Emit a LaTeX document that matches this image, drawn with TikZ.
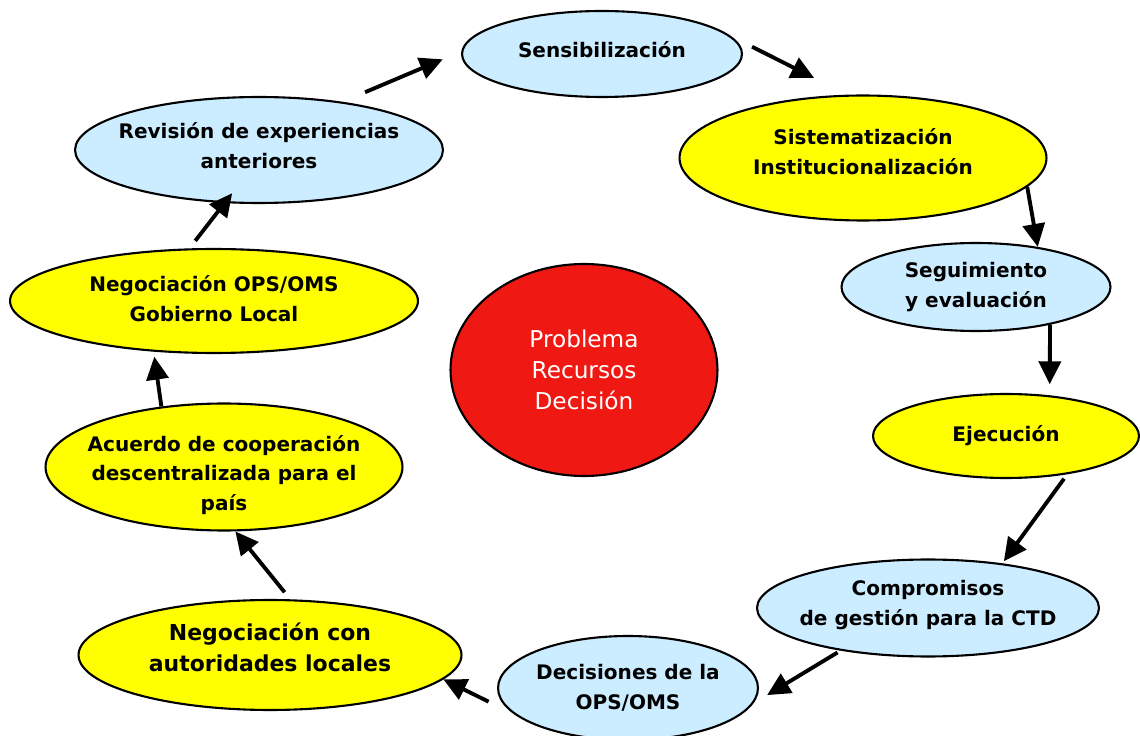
\documentclass[tikz,border=0pt]{standalone}
\usepackage{fontspec}
\setmainfont{DejaVu Sans}
\usepackage{tikz}
\definecolor{cycleblue}{RGB}{204,236,255}
\definecolor{cycleyellow}{RGB}{255,255,0}
\definecolor{cyclered}{RGB}{240,24,18}
\usetikzlibrary{shapes.geometric}
\usetikzlibrary{arrows.meta}
\tikzset{stage/.style={ellipse,draw=black,line width=1.2pt,inner sep=0pt}}
\tikzset{bluestage/.style={stage,fill=cycleblue}}
\tikzset{yellowstage/.style={stage,fill=cycleyellow}}
\tikzset{stagetext/.style={align=center,inner sep=0pt,font=\fontsize{11.4}{17}\selectfont\bfseries}}
\tikzset{core/.style={stage,fill=cyclered}}
\tikzset{coretext/.style={align=center,inner sep=0pt,text=white,font=\fontsize{13.2}{17.5}\selectfont}}
\tikzset{flow/.style={black,line width=2.2pt,-{Triangle[length=0.46cm,width=0.44cm]}}}

\begin{document}
\begin{tikzpicture}[x=0.02cm,y=-0.02cm]
  \useasboundingbox (0,0) rectangle (1140,736);

  % Stages
  \node[bluestage,minimum width=5.6cm,minimum height=1.72cm,
    label={[stagetext,yshift=0.08cm]center:Sensibilización}] (sens) at (602,54) {};
  \node[yellowstage,minimum width=7.34cm,minimum height=2.5cm,
    label={[stagetext,yshift=0.12cm]center:{Sistematización\\Institucionalización}}] (sist) at (863,158) {};
  \node[bluestage,minimum width=5.38cm,minimum height=1.76cm,
    label={[stagetext]center:{Seguimiento\\y evaluación}}] (segu) at (976,287) {};
  \node[yellowstage,minimum width=5.32cm,minimum height=1.68cm,
    label={[stagetext]center:Ejecución}] (ejec) at (1006,436) {};
  \node[bluestage,minimum width=6.84cm,minimum height=1.94cm,
    label={[stagetext,yshift=0.06cm]center:{Compromisos\\de gestión para la CTD}}] (comp) at (928,608) {};
  \node[bluestage,minimum width=5.2cm,minimum height=2.08cm,
    label={[stagetext]center:{Decisiones de la\\OPS/OMS}}] (deci) at (628,688) {};
  \node[yellowstage,minimum width=7.66cm,minimum height=2.2cm,
    label={[stagetext,yshift=0.15cm,font=\fontsize{12.5}{18}\selectfont\bfseries]center:{Negociación con\\autoridades locales}}] (nego) at (270,655) {};
  \node[yellowstage,minimum width=7.14cm,minimum height=2.54cm,
    label={[stagetext,yshift=-0.16cm]center:{Acuerdo de cooperación\\descentralizada para el\\país}}] (acue) at (224,467) {};
  \node[yellowstage,minimum width=8.16cm,minimum height=2.08cm,
    label={[stagetext,yshift=0.04cm]center:{Negociación OPS/OMS\\Gobierno Local}}] (nops) at (214,301) {};
  \node[bluestage,minimum width=7.36cm,minimum height=2.12cm,
    label={[stagetext,yshift=0.08cm]center:{Revisión de experiencias\\anteriores}}] (revi) at (259,150) {};

  % Centre
  \node[core,minimum width=5.34cm,minimum height=4.24cm,
    label={[coretext]center:{Problema\\Recursos\\Decisión}}] (prob) at (584,370) {};

  % Cycle
  \draw[flow,shorten <=0.49cm,shorten >=0.4cm] (revi.30) -- (sens.179);
  \draw[flow,shorten <=0.48cm,shorten >=0.74cm] (sens.8) -- (sist.104);
  \draw[flow] (sist.-10) -- (segu.33);
  \draw[flow,shorten >=0.22cm] (segu.-27) -- (ejec.43);
  \draw[flow,shorten <=0.11cm,shorten >=0.05cm] (ejec.-32) -- (comp.31);
  \draw[flow,shorten <=0.07cm,shorten >=0.32cm] (comp.206) -- (deci.-7);
  \draw[flow,shorten <=0.57cm] (deci.193) -- (nego.-8);
  \draw[flow,shorten <=0.18cm] (nego.70) -- (acue.-80);
  \draw[flow,shorten >=0.1cm] (acue.136) -- (nops.-140);
  \draw[flow,shorten <=0.19cm,shorten >=-0.25cm] (nops.115) -- (revi.-123);
\end{tikzpicture}
\end{document}
